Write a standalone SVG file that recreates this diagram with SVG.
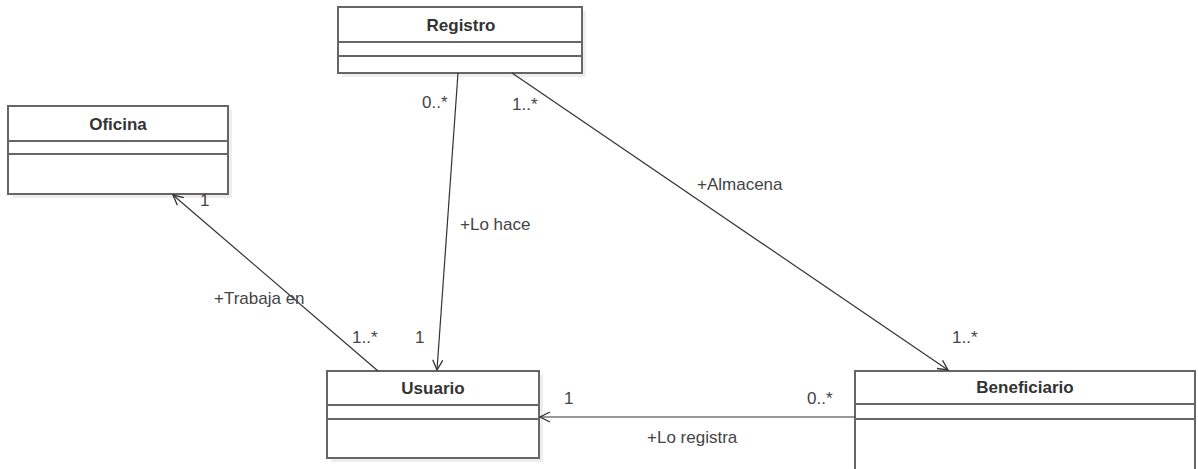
<svg xmlns="http://www.w3.org/2000/svg" width="1198" height="469" viewBox="0 0 1198 469">
<defs>
<marker id="open" viewBox="0 0 12 12" refX="11" refY="6" markerWidth="12" markerHeight="12" markerUnits="userSpaceOnUse" orient="auto">
<path d="M1,1 L11,6 L1,11" fill="none" stroke="#333" stroke-width="1.3"/>
</marker>
</defs>
<style>
.box{fill:#fff;stroke:#666;stroke-width:2}
.shadow{fill:#eee}
.sep{stroke:#666;stroke-width:2}
.title{font-family:"Liberation Sans",Arial,sans-serif;font-size:17px;font-weight:bold;fill:#333;text-anchor:middle}
.lbl{font-family:"Liberation Sans",Arial,sans-serif;font-size:17px;fill:#444}
.conn{stroke:#333;stroke-width:1.2;fill:none;marker-end:url(#open)}
</style>
<rect width="1198" height="469" fill="#fff"/>
<g id="Registro">
<rect class="shadow" x="342" y="11" width="244" height="66"/>
<rect class="box" x="338" y="7" width="244" height="66"/>
<line class="sep" x1="338" y1="42" x2="582" y2="42"/>
<line class="sep" x1="338" y1="56" x2="582" y2="56"/>
<text class="title" x="461" y="31">Registro</text>
</g>
<g id="Oficina">
<rect class="shadow" x="12" y="110" width="220" height="88"/>
<rect class="box" x="8" y="106" width="220" height="88"/>
<line class="sep" x1="8" y1="141" x2="228" y2="141"/>
<line class="sep" x1="8" y1="154" x2="228" y2="154"/>
<text class="title" x="118" y="130">Oficina</text>
</g>
<g id="Usuario">
<rect class="shadow" x="331" y="375" width="212" height="87"/>
<rect class="box" x="327" y="371" width="212" height="87"/>
<line class="sep" x1="327" y1="405" x2="539" y2="405"/>
<line class="sep" x1="327" y1="419" x2="539" y2="419"/>
<text class="title" x="433" y="394">Usuario</text>
</g>
<g id="Beneficiario">
<rect class="box" x="855" y="371" width="340" height="104"/>
<line class="sep" x1="855" y1="404" x2="1195" y2="404"/>
<line class="sep" x1="855" y1="419" x2="1195" y2="419"/>
<text class="title" x="1025" y="393">Beneficiario</text>
</g>
<g id="connectors">
<line class="conn" x1="458" y1="73" x2="437" y2="370"/>
<line class="conn" x1="512" y1="73" x2="948" y2="370"/>
<line class="conn" x1="378" y1="371" x2="173" y2="195"/>
<line class="conn" x1="855" y1="417" x2="540" y2="417"/>
<text class="lbl" x="422" y="108">0..*</text>
<text class="lbl" x="512" y="110">1..*</text>
<text class="lbl" x="460" y="230">+Lo hace</text>
<text class="lbl" x="697" y="190">+Almacena</text>
<text class="lbl" x="200" y="206">1</text>
<text class="lbl" x="214" y="304">+Trabaja en</text>
<text class="lbl" x="352" y="343">1..*</text>
<text class="lbl" x="415" y="343">1</text>
<text class="lbl" x="952" y="343">1..*</text>
<text class="lbl" x="564" y="404">1</text>
<text class="lbl" x="807" y="404">0..*</text>
<text class="lbl" x="647" y="443">+Lo registra</text>
</g>
</svg>
